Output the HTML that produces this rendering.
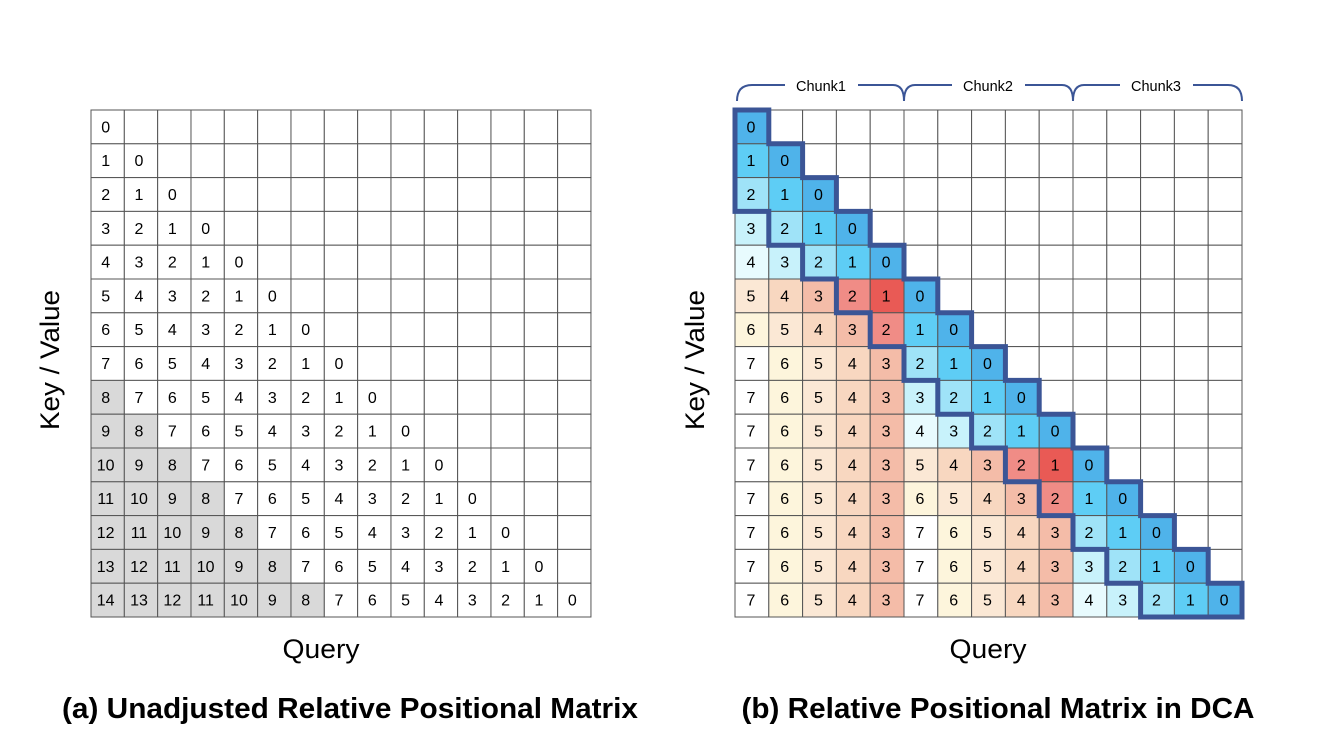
<!DOCTYPE html>
<html><head><meta charset="utf-8"><style>
html,body{margin:0;padding:0;background:#fff;width:1320px;height:752px;overflow:hidden}
svg{display:block}
</style></head><body>
<svg id="s" width="1320" height="752" xmlns="http://www.w3.org/2000/svg" font-family="Liberation Sans, DejaVu Sans, sans-serif">
<text x="52" y="360" font-size="27" text-anchor="middle" transform="rotate(-90 52 360)" dominant-baseline="middle" textLength="140" lengthAdjust="spacingAndGlyphs">Key / Value</text>
<text x="697" y="360" font-size="27" text-anchor="middle" transform="rotate(-90 697 360)" dominant-baseline="middle" textLength="140" lengthAdjust="spacingAndGlyphs">Key / Value</text>
<text x="321" y="658" font-size="27" text-anchor="middle" textLength="77" lengthAdjust="spacingAndGlyphs">Query</text>
<text x="988" y="658" font-size="27" text-anchor="middle" textLength="77" lengthAdjust="spacingAndGlyphs">Query</text>
<text x="350" y="718" font-size="29" font-weight="bold" text-anchor="middle" textLength="576" lengthAdjust="spacingAndGlyphs">(a) Unadjusted Relative Positional Matrix</text>
<text x="998" y="718" font-size="29" font-weight="bold" text-anchor="middle" textLength="513" lengthAdjust="spacingAndGlyphs">(b) Relative Positional Matrix in DCA</text>
<g fill="none" stroke="#3b5596" stroke-width="2">
<path d="M737,101 Q737,85 752,85 L785,85 M858,85 L893,85 Q904,85 904,101 Q904,85 915,85 L952,85 M1025,85 L1062,85 Q1073,85 1073,101 Q1073,85 1084,85 L1120,85 M1193,85 L1228,85 Q1242,85 1242,101"/>
</g>
<g font-size="14.5" text-anchor="middle">
<text x="821" y="91">Chunk1</text><text x="988" y="91">Chunk2</text><text x="1156" y="91">Chunk3</text>
</g>
<g id="L"></g><g id="R"></g>
</svg>
<script>
var NS="http://www.w3.org/2000/svg";
function el(p,t,a,txt){var e=document.createElementNS(NS,t);for(var k in a)e.setAttribute(k,a[k]);if(txt!==undefined)e.textContent=txt;p.appendChild(e);return e;}
var L=document.getElementById('L'),R=document.getElementById('R');
var lx=91,ly=110,lw=33.33,lh=33.8;
for(var r=0;r<15;r++)for(var c=0;c<15;c++){
 var x=lx+c*lw,y=ly+r*lh;
 el(L,'rect',{x:x,y:y,width:lw,height:lh,fill:(r-c>=8?'#d9d9d9':'#fff'),stroke:'#555','stroke-width':1});
 if(c<=r)el(L,'text',{x:x+lw/2-2,y:y+lh/2+5.5,'font-size':16,'text-anchor':'middle'},String(r-c));
}
var rx=735,ry=110,rw=33.8,rh=33.8;
var blue=['#4fb3ea','#5ecdf5','#9fe3f8','#c8f2fb','#e8fbfe'];
var red={1:'#e95a55',2:'#f08c86',3:'#f4bca8',4:'#f8d7c0',5:'#fbe8d5',6:'#fdf5dc',7:'#ffffff'};
for(var r=0;r<15;r++)for(var c=0;c<15;c++){
 var x=rx+c*rw,y=ry+r*rh,f='#fff',v=null;
 if(c<=r){
  if(Math.floor(r/5)==Math.floor(c/5)){v=r-c;f=blue[v];}
  else{v=Math.min(r-c,7-(c%5));f=red[v];}
 }
 el(R,'rect',{x:x,y:y,width:rw,height:rh,fill:f,stroke:'#555','stroke-width':1});
 if(v!==null)el(R,'text',{x:x+rw/2-1,y:y+rh/2+5.5,'font-size':16,'text-anchor':'middle'},String(v));
}
var X=function(c){return rx+c*rw},Y=function(r){return ry+r*rh};
var d='M'+X(0)+','+Y(0);
for(var r=0;r<15;r++){d+=' L'+X(r+1)+','+Y(r)+' L'+X(r+1)+','+Y(r+1);}
for(var r=14;r>=0;r--){var lc=Math.max(0,r-2);d+=' L'+X(lc)+','+Y(r+1)+' L'+X(lc)+','+Y(r);}
d+=' Z';
el(R,'path',{d:d,fill:'none',stroke:'#3b5596','stroke-width':5,'stroke-linejoin':'miter'});
</script>
</body></html>
